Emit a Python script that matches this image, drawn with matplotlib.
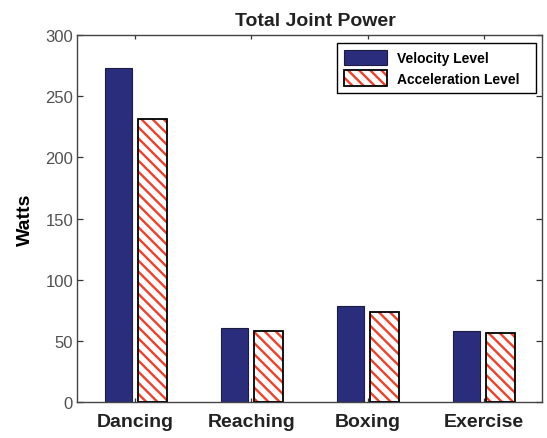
import matplotlib.pyplot as plt
import numpy as np
from matplotlib.patches import Patch
from matplotlib.legend_handler import HandlerTuple

plt.rcParams['font.family'] = ['Liberation Sans', 'DejaVu Sans']
plt.rcParams['hatch.linewidth'] = 1.7

tasks = ['Dancing', 'Reaching', 'Boxing', 'Exercise']
velocity = [273, 61, 79, 58.5]
acceleration = [231, 58.5, 74, 56.5]
yticks = [0, 50, 100, 150, 200, 250, 300]

navy = '#2a2d7c'
red = '#f0402a'

fig = plt.figure(figsize=(5.47, 4.39), dpi=100)
ax = fig.add_axes([0.1413, 0.0813, 0.849, 0.837])

x = np.arange(1, len(tasks) + 1)
ax.bar(x - 0.145, velocity, width=0.235, color=navy,
       edgecolor='#1c1c40', linewidth=0.8, zorder=2)
# hatch drawn in red, black outline laid on top
ax.bar(x + 0.145, acceleration, width=0.25, facecolor='white',
       edgecolor=red, linewidth=0, hatch='\\\\\\', zorder=2)
ax.bar(x + 0.145, acceleration, width=0.25, fill=False,
       edgecolor='black', linewidth=1.3, zorder=3)

ax.set_xlim(0.5, 4.5)
ax.set_ylim(0, 300)
ax.set_xticks(x)
ax.set_xticklabels(tasks, fontsize=14, fontweight='bold', color='#222222')
ax.set_yticks(yticks)
ax.set_yticklabels([str(v) for v in yticks], fontsize=12, color='#505050')
ax.tick_params(axis='both', direction='in', length=4, width=0.9,
               top=True, right=True, color='#333333')
ax.tick_params(axis='x', pad=8, length=3)
ax.tick_params(axis='y', pad=3)
for s in ax.spines.values():
    s.set_color('#444444')
    s.set_linewidth(1.0)

ax.set_ylabel('Watts', fontsize=14, fontweight='bold', labelpad=8)
ax.set_title('Total Joint Power', fontsize=14, fontweight='bold', pad=7,
             color='#222222', x=0.513)

vel_handle = Patch(facecolor=navy, edgecolor='#1c1c40', linewidth=0.8)
acc_hatch = Patch(facecolor='white', edgecolor=red, linewidth=0, hatch='\\\\\\')
acc_edge = Patch(fill=False, edgecolor='black', linewidth=1.3)
leg = ax.legend([vel_handle, (acc_hatch, acc_edge)],
                ['Velocity Level', 'Acceleration Level'],
                handler_map={tuple: HandlerTuple(ndivide=1, pad=0)},
                loc='upper left', bbox_to_anchor=(0.559, 0.5, 0.4285, 0.478),
                mode='expand',
                prop={'weight': 'bold', 'size': 10},
                fancybox=False, edgecolor='black', framealpha=1,
                handlelength=3.1, handleheight=1.35, handletextpad=0.7,
                borderpad=0.5, labelspacing=0.35, borderaxespad=0)
leg.get_frame().set_linewidth(1.0)

fig.savefig('out.png', dpi=100)
